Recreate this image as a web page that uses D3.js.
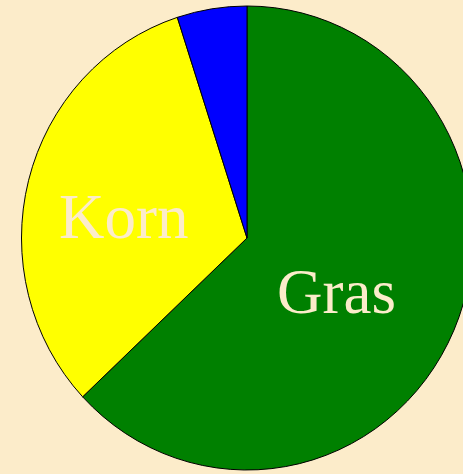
<!DOCTYPE html>
<html lang="de">
<head>
<meta charset="UTF-8">
<title>Gras und Korn</title>
<style>
  body { margin: 0; padding: 0; background: #fcecca; overflow: hidden; }
  svg { display: block; }
  .label { font-family: "Liberation Serif", "Times New Roman", serif; font-size: 63px; fill: #fcecca; }
</style>
</head>
<body>
<script src="https://d3js.org/d3.v7.min.js"></script>
<script>
  var width = 463, height = 474;

  // data
  var names = ["Gras", "Korn", "Rest"];
  var values = [63, 32, 5];
  var colors = ["#008000", "#ffff00", "#0000ff"];
  var showLabel = [true, true, false];

  var cx = 247, cy = 238, radius = 232, squash = 0.972;

  var svg = d3.select("body").append("svg")
      .attr("width", width)
      .attr("height", height);

  var pie = d3.pie().sort(null).value(function (d) { return d; });
  var arcs = pie(values);

  var arc = d3.arc().innerRadius(0).outerRadius(radius);

  var g = svg.append("g")
      .attr("transform", "translate(" + cx + "," + cy + ") scale(" + squash + ",1)");

  g.selectAll("path")
      .data(arcs)
      .enter().append("path")
      .attr("d", arc)
      .attr("fill", function (d, i) { return colors[i]; })
      .attr("stroke", "#000")
      .attr("stroke-width", 1)
      .attr("vector-effect", "non-scaling-stroke");

  // labels near the centroid, nudged a bit down-left like the original
  svg.selectAll("text")
      .data(arcs.filter(function (d, i) { return showLabel[i]; }))
      .enter().append("text")
      .attr("class", "label")
      .attr("text-anchor", "middle")
      .attr("x", function (d) { return cx + arc.centroid(d)[0] * squash - 14; })
      .attr("y", function (d) { return cy + arc.centroid(d)[1] + 29; })
      .text(function (d) { return names[d.index]; });
</script>
</body>
</html>
